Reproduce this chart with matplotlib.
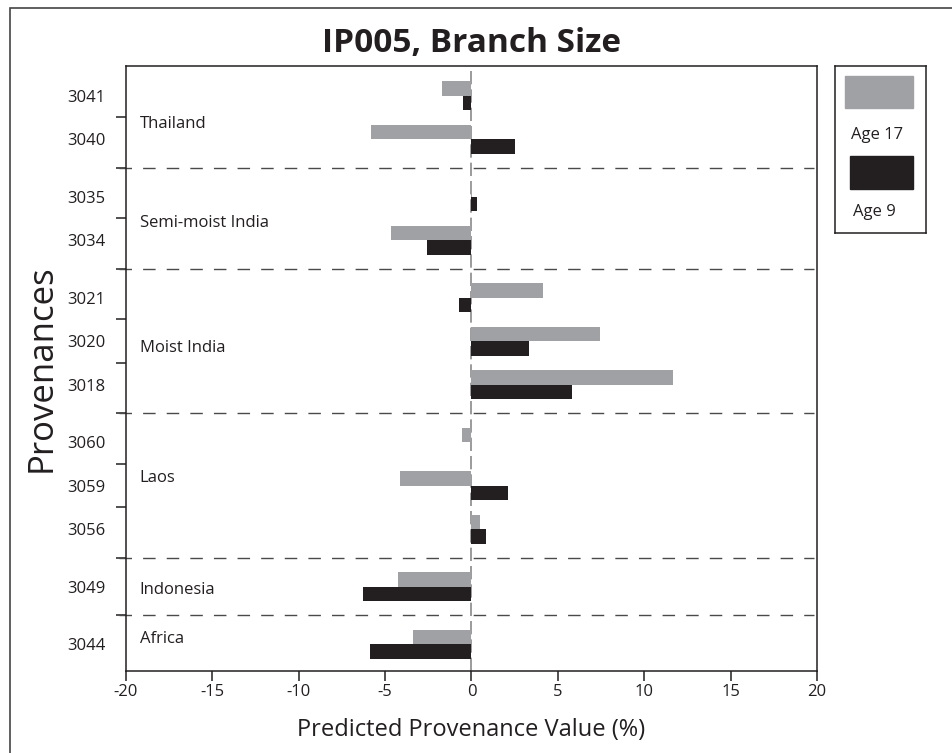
import numpy as np
import matplotlib.pyplot as plt
from matplotlib.patches import Rectangle

plt.rcParams['font.family'] = ['Open Sans', 'DejaVu Sans']

provenances = ['3041', '3040', '3035', '3034', '3021', '3020', '3018',
               '3060', '3059', '3056', '3049', '3044']
groups = ['Thailand', 'Semi-moist India', 'Moist India', 'Laos', 'Indonesia', 'Africa']
group_sizes = [2, 2, 3, 3, 1, 1]
age17 = [-1.7, -5.8, 0.05, -4.65, 4.15, 7.45, 11.65, -0.55, -4.15, 0.5, -4.25, -3.4]
age9 = [-0.5, 2.5, 0.3, -2.6, -0.7, 3.35, 5.8, 0.0, 2.1, 0.85, -6.3, -5.9]
series = ['Age 17', 'Age 9']

gray = '#a0a1a5'
dark = '#231f20'

# row positions: unit step inside a region, wider step between regions
gap = 1.32
pos = []
y = 0.0
for gi, n in enumerate(group_sizes):
    if gi:
        y += gap
    for k in range(n):
        if k:
            y += 1.0
        pos.append(y)
pos = np.array(pos)
ends = np.cumsum(group_sizes)
starts = ends - np.array(group_sizes)
group_mid = [(pos[s] + pos[e - 1]) / 2 for s, e in zip(starts, ends)]
bounds = [(pos[e - 1] + pos[e]) / 2 for e in ends[:-1]]
row_bounds = (pos[:-1] + pos[1:]) / 2
# small vertical nudges for the region names
name_shift = [0.155, 0.11, 0.16, -0.17, 0.08, -0.11]

fig = plt.figure(figsize=(9.53, 7.53), dpi=100)
ax = fig.add_axes([126 / 953, 1 - 671 / 753, 691 / 953, 605 / 753])

h = 0.333
ax.barh(pos - h / 2, age17, height=h, color=gray, zorder=3)
ax.barh(pos + h / 2, age9, height=h, color=dark, zorder=3)

ax.axvline(0, color='#8a8a8a', lw=1.2, ls=(0, (8, 3)), zorder=2)
for b in bounds:
    ax.axhline(b, xmin=-0.01, xmax=0.995, color='#4a4a4a', lw=1.0,
               ls=(0, (9, 8)), clip_on=False, zorder=2)

for g, ym, dy in zip(groups, group_mid, name_shift):
    ax.text(-19.2, ym + dy, g, fontsize=12, color='#231f20', va='center', ha='left')

ax.set_xlim(-20, 20)
ax.set_ylim(pos[-1] + 0.62, pos[0] - 0.68)
ax.set_xticks(np.arange(-20, 21, 5))
ax.set_xticklabels([str(v) for v in range(-20, 21, 5)])
ax.set_yticks(pos)
ax.set_yticklabels(provenances)
ax.set_yticks(row_bounds, minor=True)
ax.tick_params(axis='y', which='major', length=0, pad=15, labelsize=12, labelcolor='#231f20')
ax.tick_params(axis='y', which='minor', length=7, width=1.1, color='#231f20', direction='out')
ax.tick_params(axis='x', length=7, width=1.1, color='#231f20', pad=2, labelsize=12,
               labelcolor='#231f20')
for s in ax.spines.values():
    s.set_linewidth(1.1)
    s.set_color('#231f20')

ax.set_title('IP005, Branch Size', fontsize=24, fontweight='bold', color='#231f20', pad=10)
ax.set_xlabel('Predicted Provenance Value (%)', fontsize=17, color='#231f20')
ax.xaxis.set_label_coords(0.5, -0.078)
ax.set_ylabel('Provenances', fontsize=25, color='#231f20')
ax.yaxis.set_label_coords(-0.097, 0.5)

# legend box with swatches stacked above their labels
lax = fig.add_axes([835 / 953, 1 - 233 / 753, 91 / 953, 167 / 753])
lax.set_xlim(0, 1)
lax.set_ylim(0, 1)
lax.set_xticks([])
lax.set_yticks([])
for s in lax.spines.values():
    s.set_linewidth(1.1)
    s.set_color('#231f20')
lax.add_patch(Rectangle((0.11, 0.75), 0.75, 0.19, color=gray))
lax.text(0.46, 0.587, series[0], ha='center', va='center', fontsize=12, color='#231f20')
lax.add_patch(Rectangle((0.165, 0.263), 0.69, 0.198, color=dark))
lax.text(0.434, 0.126, series[1], ha='center', va='center', fontsize=12, color='#231f20')

# outer frame around the figure
fig.add_artist(Rectangle((10 / 953, -0.05), 1.0, 1 - 8 / 753 + 0.05, fill=False,
                         transform=fig.transFigure, lw=1.2, edgecolor='#444444'))

fig.savefig('out.png', dpi=100)
